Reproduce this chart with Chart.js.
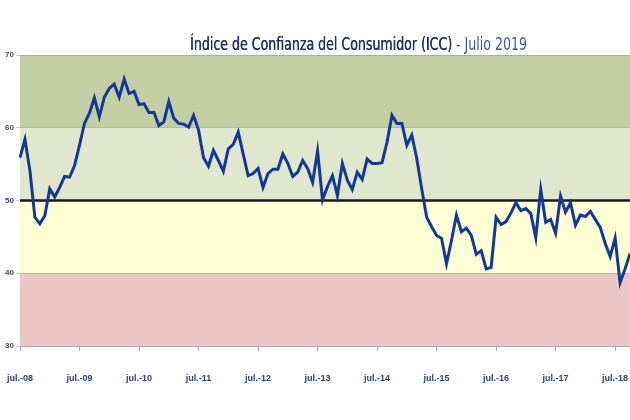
<!DOCTYPE html>
<html>
<head>
<meta charset="utf-8">
<script src="https://cdn.jsdelivr.net/npm/chart.js@4.4.1/dist/chart.umd.min.js"></script>
<style>
    html, body { margin: 0; padding: 0; background: #fff; }
    #wrap { width: 630px; height: 420px; }
</style>
</head>
<body>
<div id="wrap"><canvas id="myChart" width="630" height="420"></canvas></div>
<script>
// months jul.-08 .. oct.-18
var monthNames = ['jul.', 'ago.', 'sep.', 'oct.', 'nov.', 'dic.', 'ene.', 'feb.', 'mar.', 'abr.', 'may.', 'jun.'];
var firstYear = 8;
var icc = [
    55.9, 58.4, 54.1, 47.7, 46.8, 47.9, 51.6, 50.5, 51.8, 53.3, 53.2, 54.8,
    57.6, 60.6, 62.0, 64.1, 61.5, 64.2, 65.4, 66.0, 64.2, 66.7, 64.7, 65.0,
    63.2, 63.3, 62.1, 62.1, 60.3, 60.8, 63.6, 61.3, 60.6, 60.5, 60.1, 61.7,
    59.7, 55.9, 54.7, 56.9, 55.5, 54.0, 57.1, 57.7, 59.4, 56.4, 53.4, 53.7,
    54.4, 51.8, 53.7, 54.3, 54.3, 56.4, 55.1, 53.3, 53.9, 55.5, 54.4, 52.5,
    56.8, 50.1, 51.9, 53.4, 50.7, 55.1, 52.8, 51.5, 53.9, 52.9, 55.7, 55.1,
    55.1, 55.2, 58.0, 61.7, 60.6, 60.6, 57.6, 59.0, 55.8, 51.6, 47.7, 46.4,
    45.2, 44.8, 41.3, 44.5, 48.0, 45.7, 46.2, 45.2, 42.6, 43.1, 40.6, 40.8,
    47.7, 46.7, 47.1, 48.3, 49.7, 48.6, 48.9, 48.2, 44.9, 51.5, 47.0, 47.4,
    45.5, 50.6, 48.4, 49.7, 46.6, 48.0, 47.8, 48.5, 47.4, 46.3, 44.1, 42.3,
    44.8, 38.7, 40.6, 42.7
];
var yTicks = [30, 40, 50, 60, 70];
var bands = [
    { from: 60, to: 70, color: '#c3cfa3' },
    { from: 50, to: 60, color: '#e0e7cd' },
    { from: 40, to: 50, color: '#fdfdd4' },
    { from: 30, to: 40, color: '#eac7c5' }
];
var titleMain = 'Índice de Confianza del Consumidor (ICC)';
var titleSub = ' - Julio 2019';

var labels = [];
for (var i = 0; i < icc.length; i++) {
    var yr = firstYear + Math.floor((i + 6) / 12);
    labels.push(monthNames[i % 12] + '-' + (yr < 10 ? '0' + yr : yr));
}

var titleFont = '17px "Liberation Sans Narrow", "DejaVu Sans Condensed", sans-serif';

var bandPlugin = {
    id: 'bands',
    beforeDraw: function (chart) {
        var c = chart.ctx, a = chart.chartArea, y = chart.scales.y;
        c.save();
        bands.forEach(function (b) {
            var top = y.getPixelForValue(b.to), bot = y.getPixelForValue(b.from);
            c.fillStyle = b.color;
            c.fillRect(a.left, top, a.right - a.left, bot - top);
        });
        c.restore();
    },
    beforeDatasetsDraw: function (chart) {
        var c = chart.ctx, a = chart.chartArea, y = chart.scales.y;
        var py = y.getPixelForValue(50);
        c.save();
        c.strokeStyle = '#1a1a1a';
        c.lineWidth = 2.5;
        c.beginPath();
        c.moveTo(a.left, py);
        c.lineTo(a.right, py);
        c.stroke();
        c.restore();
    },
    afterDraw: function (chart) {
        var c = chart.ctx;
        c.save();
        c.textBaseline = 'alphabetic';
        c.font = titleFont;
        var w1 = c.measureText(titleMain).width;
        var w2 = c.measureText(titleSub).width;
        var sx = 337 / (w1 + w2);
        c.translate(190, 50);
        c.scale(sx, 1);
        c.fillStyle = '#1c336a';
        c.fillText(titleMain, 0, 0);
        c.fillText(titleMain, 0.4, 0);
        c.fillStyle = '#3d5a8f';
        c.fillText(titleSub, w1, 0);
        c.restore();
    }
};

const ctx = document.getElementById('myChart');

new Chart(ctx, {
    type: 'line',
    data: {
        labels: labels,
        datasets: [{
            data: icc,
            borderWidth: 3,
            borderColor: '#12399a',
            pointRadius: 0,
            tension: 0,
            fill: false
        }]
    },
    options: {
        responsive: false,
        animation: false,
        layout: {
            padding: { top: 55, right: 0, left: 0, bottom: 0 }
        },
        plugins: {
            legend: { display: false },
            tooltip: { enabled: false }
        },
        scales: {
            x: {
                offset: false,
                afterFit: function (s) {
                    s.height = 74;
                    s.paddingLeft = 0;
                    s.paddingRight = 0;
                },
                border: { color: '#a8a8a8', width: 1 },
                grid: {
                    drawOnChartArea: false,
                    tickLength: 5,
                    color: function (c) { return c.index % 12 === 0 ? '#a8a8a8' : 'rgba(0,0,0,0)'; }
                },
                ticks: {
                    autoSkip: false,
                    maxRotation: 0,
                    padding: 22,
                    color: '#2a3f78',
                    font: { family: '"Liberation Sans Narrow", sans-serif', size: 9, weight: 'bold' },
                    callback: function (v, i) { return i % 12 === 0 ? labels[i] : ''; }
                }
            },
            y: {
                min: 30,
                max: 70,
                afterFit: function (s) { s.width = 20; },
                afterBuildTicks: function (s) { s.ticks = yTicks.map(function (v) { return { value: v }; }); },
                border: { display: false },
                grid: {
                    color: 'rgba(140,140,120,0.45)',
                    tickLength: 4
                },
                ticks: {
                    padding: 2,
                    color: '#3a4a70',
                    font: { family: '"Liberation Sans Narrow", sans-serif', size: 8, weight: 'bold' }
                }
            }
        }
    },
    plugins: [bandPlugin]
});
</script>
</body>
</html>
